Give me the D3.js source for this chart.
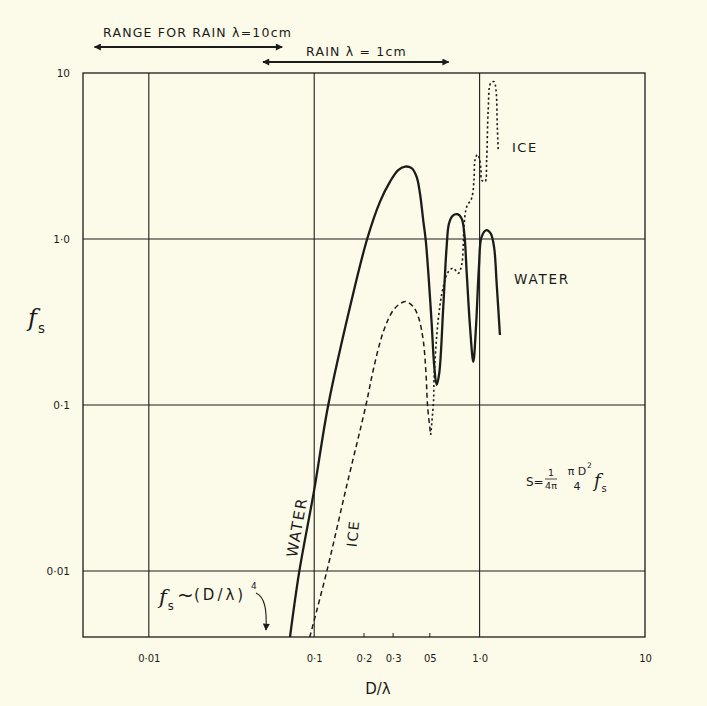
<!DOCTYPE html>
<html>
<head>
<meta charset="utf-8">
<script src="https://cdn.jsdelivr.net/npm/d3@7"></script>
<style>
  html, body { margin: 0; padding: 0; background: #fcfae8; }
  svg { display: block; }
  text { fill: #1a1a1a; font-family: "DejaVu Sans", sans-serif; }
</style>
</head>
<body>
<svg id="chart" width="707" height="706"></svg>
<script>
// water curve (solid) as [D/lambda, f_s]
var water = [
  [0.0714, 0.004], [0.0812, 0.0099], [0.100, 0.0308], [0.1216, 0.1], [0.1684, 0.429],
  [0.209, 1.0], [0.250, 1.68], [0.287, 2.21], [0.322, 2.6], [0.354, 2.73],
  [0.388, 2.67], [0.416, 2.37], [0.436, 1.88], [0.456, 1.30], [0.472, 0.99],
  [0.490, 0.62], [0.513, 0.31], [0.532, 0.170], [0.550, 0.132], [0.570, 0.155],
  [0.603, 0.39], [0.632, 0.90], [0.653, 1.24], [0.687, 1.38], [0.733, 1.41],
  [0.778, 1.33], [0.808, 1.08], [0.836, 0.62], [0.875, 0.296], [0.916, 0.182],
  [0.951, 0.296], [0.991, 0.68], [1.028, 1.03], [1.10, 1.13], [1.166, 1.08],
  [1.222, 0.90], [1.268, 0.54], [1.327, 0.264]
];

// ice curve, dashed part
var iceDashed = [
  [0.094, 0.004], [0.119, 0.0099], [0.156, 0.0316], [0.2056, 0.1], [0.2275, 0.1625],
  [0.262, 0.277], [0.301, 0.373], [0.338, 0.413], [0.362, 0.419], [0.397, 0.391],
  [0.426, 0.340], [0.456, 0.246], [0.474, 0.155], [0.485, 0.0977], [0.506, 0.066]
];

// ice curve, dotted part
var iceDotted = [
  [0.506, 0.066], [0.527, 0.107], [0.530, 0.1415], [0.562, 0.325], [0.603, 0.516],
  [0.647, 0.635], [0.693, 0.666], [0.743, 0.621], [0.779, 0.697], [0.796, 0.90],
  [0.804, 1.186], [0.836, 1.565], [0.895, 1.76], [0.925, 2.27], [0.938, 2.99],
  [0.970, 3.23], [0.995, 3.07], [1.019, 2.60], [1.028, 2.27], [1.078, 2.21],
  [1.103, 2.99], [1.127, 5.98], [1.166, 8.67], [1.222, 8.87], [1.256, 7.9],
  [1.279, 4.75], [1.297, 3.36]
];

// axis ticks
var xGrid = [0.01, 0.1, 1];
var yGrid = [0.01, 0.1, 1];
var xTickValues = [0.01, 0.1, 0.2, 0.3, 0.5, 1, 10];
var xTickLabels = ["0·01", "0·1", "0·2", "0·3", "05", "1·0", "10"];
var xMinorTicks = [0.2, 0.3, 0.5];
var yTickValues = [0.01, 0.1, 1, 10];
var yTickLabels = ["0·01", "0·1", "1·0", "10"];

// rain size ranges shown by the arrows at the top
var rainRanges = [[0.0047, 0.064], [0.049, 0.65]];
var rainLabels = ["RANGE FOR RAIN λ=10cm", "RAIN  λ = 1cm"];

var margin = {left: 83, right: 62, top: 73, bottom: 69},
    width = 707, height = 706;

var svg = d3.select('#chart');

var x = d3.scaleLog()
    .domain([0.004, 10])
    .range([margin.left, width - margin.right]);

var y = d3.scaleLog()
    .domain([0.004, 10])
    .range([height - margin.bottom, margin.top]);

var ink = '#1c1c1a';

// arrow head
var defs = svg.append('defs');
defs.append('marker')
    .attr('id', 'head')
    .attr('viewBox', '0 0 10 10')
    .attr('refX', 9).attr('refY', 5)
    .attr('markerWidth', 9).attr('markerHeight', 7)
    .attr('markerUnits', 'userSpaceOnUse')
    .attr('orient', 'auto-start-reverse')
    .append('path')
    .attr('d', 'M0,0 L10,5 L0,10 Z')
    .style('fill', ink);

// grid lines
svg.append('g')
    .selectAll('line.vgrid')
    .data(xGrid)
    .enter()
    .append('line')
    .attr('x1', function (d) { return x(d); })
    .attr('x2', function (d) { return x(d); })
    .attr('y1', y.range()[0])
    .attr('y2', y.range()[1])
    .style('stroke', ink)
    .style('stroke-width', 1.1);

svg.append('g')
    .selectAll('line.hgrid')
    .data(yGrid)
    .enter()
    .append('line')
    .attr('y1', function (d) { return y(d); })
    .attr('y2', function (d) { return y(d); })
    .attr('x1', x.range()[0])
    .attr('x2', x.range()[1])
    .style('stroke', ink)
    .style('stroke-width', 1.1);

// frame
svg.append('rect')
    .attr('x', x.range()[0])
    .attr('y', y.range()[1])
    .attr('width', x.range()[1] - x.range()[0])
    .attr('height', y.range()[0] - y.range()[1])
    .style('fill', 'none')
    .style('stroke', ink)
    .style('stroke-width', 1.3);

// small ticks on bottom axis
svg.append('g')
    .selectAll('line')
    .data(xMinorTicks)
    .enter()
    .append('line')
    .attr('x1', function (d) { return x(d); })
    .attr('x2', function (d) { return x(d); })
    .attr('y1', y.range()[0])
    .attr('y2', y.range()[0] - 4)
    .style('stroke', ink)
    .style('stroke-width', 1);

// tick labels via axes (no tick lines, domain hidden)
var xAxis = d3.axisBottom(x)
    .tickValues(xTickValues)
    .tickSize(0)
    .tickPadding(18)
    .tickFormat(function (d, i) { return xTickLabels[i]; });

var gx = svg.append('g')
    .attr('transform', 'translate(0,' + y.range()[0] + ')')
    .call(xAxis);
gx.select('.domain').remove();
gx.selectAll('text')
    .style('font-size', '10px')
    .style('fill', ink)
    .style('font-family', '"DejaVu Sans", sans-serif');

var yAxis = d3.axisLeft(y)
    .tickValues(yTickValues)
    .tickSize(0)
    .tickPadding(13)
    .tickFormat(function (d, i) { return yTickLabels[i]; });

var gy = svg.append('g')
    .attr('transform', 'translate(' + x.range()[0] + ',0)')
    .call(yAxis);
gy.select('.domain').remove();
gy.selectAll('text')
    .style('font-size', '10.5px')
    .style('fill', ink)
    .style('font-family', '"DejaVu Sans", sans-serif');

// curves
var line = d3.line()
    .x(function (d) { return x(d[0]); })
    .y(function (d) { return y(d[1]); })
    .curve(d3.curveCatmullRom.alpha(0.5));

var plotClip = defs.append('clipPath').attr('id', 'plotClip');
plotClip.append('rect')
    .attr('x', x.range()[0]).attr('y', y.range()[1])
    .attr('width', x.range()[1] - x.range()[0])
    .attr('height', y.range()[0] - y.range()[1]);

var curves = svg.append('g').attr('clip-path', 'url(#plotClip)');

curves.append('path')
    .datum(iceDashed)
    .attr('d', line)
    .style('fill', 'none')
    .style('stroke', ink)
    .style('stroke-width', 1.5)
    .style('stroke-dasharray', '5,3.5');

curves.append('path')
    .datum(iceDotted)
    .attr('d', line)
    .style('fill', 'none')
    .style('stroke', ink)
    .style('stroke-width', 1.6)
    .style('stroke-dasharray', '2.2,2.6');

curves.append('path')
    .datum(water)
    .attr('d', line)
    .style('fill', 'none')
    .style('stroke', ink)
    .style('stroke-width', 2.3)
    .style('stroke-linejoin', 'round');

// rain range arrows
var arrowY = [47, 62];
var labelPos = [[103, 37], [306, 56]];
rainRanges.forEach(function (r, i) {
    svg.append('line')
        .attr('x1', x(r[0])).attr('x2', x(r[1]))
        .attr('y1', arrowY[i]).attr('y2', arrowY[i])
        .style('stroke', ink)
        .style('stroke-width', 2.2)
        .attr('marker-start', 'url(#head)')
        .attr('marker-end', 'url(#head)');
    svg.append('text')
        .attr('x', labelPos[i][0])
        .attr('y', labelPos[i][1])
        .text(rainLabels[i])
        .style('font-size', '12.5px')
        .style('letter-spacing', '1.2px');
});

// curve labels
svg.append('text').attr('x', 512).attr('y', 152).text('ICE')
    .style('font-size', '13px').style('letter-spacing', '1.5px');
svg.append('text').attr('x', 514).attr('y', 284).text('WATER')
    .style('font-size', '13.5px').style('letter-spacing', '1.8px');

svg.append('text')
    .attr('transform', 'translate(302,528) rotate(-80)')
    .attr('text-anchor', 'middle')
    .text('WATER')
    .style('font-size', '15px').style('letter-spacing', '1.8px');

svg.append('text')
    .attr('transform', 'translate(358,534) rotate(-84)')
    .attr('text-anchor', 'middle')
    .text('ICE')
    .style('font-size', '14px').style('letter-spacing', '1.5px');

// f_s helper
function fs(g, px, py, size) {
    g.append('text')
        .attr('x', px).attr('y', py)
        .text('f')
        .style('font-family', '"DejaVu Serif", serif')
        .style('font-style', 'italic')
        .style('font-size', size + 'px');
    g.append('text')
        .attr('x', px + size * 0.42).attr('y', py + size * 0.28)
        .text('s')
        .style('font-size', (size * 0.55) + 'px');
}

// y axis label
fs(svg, 28, 326, 24);

// x axis label
svg.append('text')
    .attr('x', 378).attr('y', 694)
    .attr('text-anchor', 'middle')
    .text('D/λ')
    .style('font-size', '15px');

// f_s ~ (D/lambda)^4 note
fs(svg, 159, 604, 21);
svg.append('text').attr('x', 177).attr('y', 602).text('~')
    .style('font-size', '20px');
svg.append('text').attr('x', 194).attr('y', 600).text('(D/λ)')
    .style('font-size', '15px').style('letter-spacing', '3px');
svg.append('text').attr('x', 251).attr('y', 589).text('4')
    .style('font-size', '9px');
svg.append('path')
    .attr('d', 'M256,593 C265,597 267,610 266,630')
    .style('fill', 'none')
    .style('stroke', ink)
    .style('stroke-width', 1.1)
    .attr('marker-end', 'url(#head)');

// scattering formula
var fg = svg.append('g');
fg.append('text').attr('x', 526).attr('y', 486).text('S=').style('font-size', '12px');
fg.append('text').attr('x', 551).attr('y', 476).attr('text-anchor', 'middle').text('1').style('font-size', '9.5px');
fg.append('line').attr('x1', 545).attr('x2', 557).attr('y1', 479).attr('y2', 479).style('stroke', ink).style('stroke-width', 0.8);
fg.append('text').attr('x', 551).attr('y', 489).attr('text-anchor', 'middle').text('4π').style('font-size', '9.5px');
fg.append('text').attr('x', 577).attr('y', 475).attr('text-anchor', 'middle').text('π D').style('font-size', '11px');
fg.append('text').attr('x', 587).attr('y', 468).text('2').style('font-size', '7.5px');
fg.append('text').attr('x', 577).attr('y', 490).attr('text-anchor', 'middle').text('4').style('font-size', '11px');
fs(fg, 594, 487, 18);
</script>
</body>
</html>
